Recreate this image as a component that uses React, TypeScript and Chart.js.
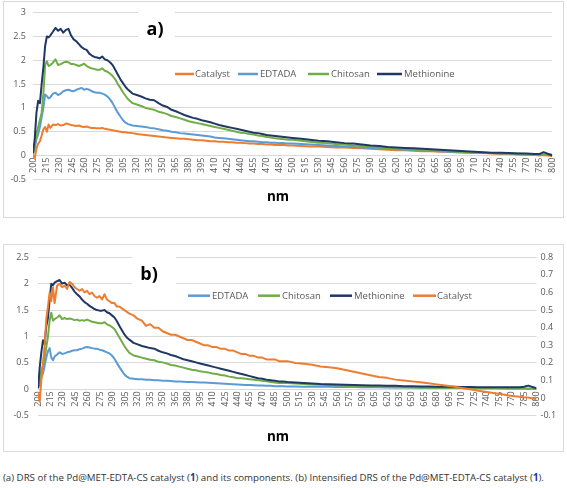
import React, { useEffect, useRef } from "react";
import { Chart, registerables } from "chart.js";

Chart.register(...registerables);

const FONT = "'Open Sans', 'Liberation Sans', sans-serif";
const TICK_COLOR = "#595959";
const GRID_COLOR = "#D9D9D9";

const ORANGE = "#ED7D31";
const LIGHT_BLUE = "#5B9BD5";
const GREEN = "#70AD47";
const NAVY = "#203864";

// wavelength (nm) sampling
const NM = [
  200, 202, 204, 206, 208, 210, 212, 214, 216, 218,
  220, 223, 226, 229, 232, 235, 238, 241, 244, 247,
  250, 253, 256, 259, 262, 265, 268, 271, 274, 277,
  280, 283, 286, 289, 292, 295, 298, 301, 304, 307,
  310, 315, 320, 325, 330, 335, 340, 345, 350, 355,
  360, 365, 370, 375, 380, 385, 390, 395, 400, 405,
  410, 415, 420, 425, 430, 435, 440, 445, 450, 455,
  460, 465, 470, 475, 480, 485, 490, 495, 500, 510,
  520, 530, 540, 550, 560, 570, 580, 590, 600, 610,
  620, 630, 640, 650, 660, 670, 680, 690, 700, 710,
  720, 730, 740, 750, 760, 770, 780, 785, 790, 800,
];

// tick labels
const X_TICKS = [
  200, 215, 230, 245, 260, 275, 290, 305, 320, 335, 350, 365, 380, 395, 410,
  425, 440, 455, 470, 485, 500, 515, 530, 545, 560, 575, 590, 605, 620, 635,
  650, 665, 680, 695, 710, 725, 740, 755, 770, 785, 800,
];
const Y_TICKS_A = [-0.5, 0, 0.5, 1, 1.5, 2, 2.5, 3];
const Y_TICKS_B = [-0.5, 0, 0.5, 1, 1.5, 2, 2.5];
const Y2_TICKS_B = [-0.1, 0, 0.1, 0.2, 0.3, 0.4, 0.5, 0.6, 0.7, 0.8];

// ---- chart (a) ----
const CATALYST_A = [
  0.02, -0.06, 0.15, 0.25, 0.3, 0.42, 0.55, 0.6, 0.5, 0.65,
  0.58, 0.65, 0.64, 0.66, 0.63, 0.64, 0.67, 0.66, 0.64, 0.63,
  0.62, 0.63, 0.61, 0.6, 0.61, 0.59, 0.58, 0.58, 0.57, 0.57,
  0.58, 0.56, 0.55, 0.54, 0.53, 0.52, 0.51, 0.5, 0.49, 0.49,
  0.48, 0.47, 0.45, 0.44, 0.43, 0.42, 0.41, 0.4, 0.39, 0.38,
  0.37, 0.36, 0.35, 0.35, 0.34, 0.33, 0.32, 0.32, 0.31, 0.3,
  0.3, 0.29, 0.29, 0.28, 0.28, 0.27, 0.27, 0.26, 0.25, 0.25,
  0.24, 0.24, 0.23, 0.23, 0.22, 0.22, 0.22, 0.21, 0.21, 0.2,
  0.19, 0.19, 0.18, 0.17, 0.17, 0.16, 0.15, 0.14, 0.13, 0.12,
  0.11, 0.11, 0.1, 0.09, 0.09, 0.08, 0.08, 0.07, 0.06, 0.06,
  0.05, 0.04, 0.03, 0.03, 0.02, 0.01, 0.01, 0.0, 0.01, -0.01,
];
const EDTADA_A = [
  0.03, 0.15, 0.35, 0.45, 0.6, 0.8, 1.0, 1.28, 1.25, 1.2,
  1.22, 1.3, 1.32, 1.27, 1.3, 1.35, 1.37, 1.38, 1.36, 1.35,
  1.38, 1.4, 1.42, 1.38, 1.4, 1.38, 1.35, 1.33, 1.32, 1.32,
  1.3, 1.28, 1.24, 1.18, 1.1, 1.0, 0.9, 0.82, 0.74, 0.69,
  0.66, 0.63, 0.62, 0.61, 0.6, 0.58, 0.57, 0.55, 0.53, 0.52,
  0.5, 0.49, 0.47, 0.46, 0.45, 0.44, 0.43, 0.42, 0.41, 0.4,
  0.38, 0.37, 0.36, 0.35, 0.34, 0.33, 0.32, 0.31, 0.3, 0.3,
  0.29, 0.28, 0.28, 0.27, 0.27, 0.26, 0.26, 0.25, 0.25, 0.24,
  0.23, 0.22, 0.21, 0.2, 0.19, 0.18, 0.17, 0.16, 0.15, 0.14,
  0.13, 0.12, 0.11, 0.1, 0.1, 0.09, 0.08, 0.07, 0.07, 0.06,
  0.05, 0.05, 0.04, 0.04, 0.03, 0.03, 0.02, 0.02, 0.02, 0.01,
];
const CHITOSAN_A = [
  0.03, 0.2, 0.45, 0.6, 0.75, 0.9, 1.3, 1.9, 1.98, 1.88,
  1.9, 1.95, 2.02, 1.9, 1.92, 1.95, 1.97, 1.96, 1.92, 1.92,
  1.9, 1.88, 1.9, 1.93, 1.88, 1.85, 1.83, 1.82, 1.8, 1.8,
  1.83, 1.78, 1.76, 1.72, 1.67, 1.6, 1.5, 1.42, 1.33, 1.25,
  1.18, 1.1, 1.07, 1.04, 1.0, 0.98, 0.96, 0.92, 0.9, 0.87,
  0.83, 0.81, 0.78, 0.75, 0.72, 0.7, 0.68, 0.66, 0.64, 0.62,
  0.6, 0.58, 0.56, 0.54, 0.52, 0.5, 0.48, 0.47, 0.45, 0.44,
  0.42, 0.41, 0.39, 0.38, 0.36, 0.35, 0.34, 0.33, 0.33, 0.31,
  0.29, 0.27, 0.26, 0.24, 0.23, 0.21, 0.2, 0.18, 0.17, 0.15,
  0.14, 0.13, 0.12, 0.11, 0.1, 0.1, 0.09, 0.08, 0.07, 0.07,
  0.06, 0.05, 0.05, 0.04, 0.04, 0.03, 0.03, 0.03, 0.02, 0.02,
];
const METHIONINE_A = [
  0.05, 0.35, 0.9, 1.15, 1.1, 1.5, 1.85, 2.3, 2.5, 2.48,
  2.52, 2.6, 2.68, 2.62, 2.66, 2.58, 2.64, 2.66, 2.52, 2.44,
  2.4, 2.34, 2.28, 2.24, 2.22, 2.14, 2.1, 2.07, 2.06, 2.04,
  2.08, 2.02, 2.0, 1.96, 1.9, 1.8, 1.7, 1.6, 1.52, 1.44,
  1.38, 1.3, 1.27, 1.24, 1.2, 1.17, 1.16, 1.1, 1.05, 1.02,
  0.96, 0.93, 0.89, 0.85, 0.82, 0.79, 0.77, 0.74, 0.72, 0.7,
  0.67, 0.64, 0.62, 0.6, 0.58, 0.56, 0.54, 0.52, 0.5, 0.48,
  0.47, 0.45, 0.43, 0.42, 0.41, 0.4, 0.39, 0.38, 0.37, 0.35,
  0.33, 0.31, 0.3, 0.28, 0.26, 0.25, 0.23, 0.21, 0.2, 0.18,
  0.17, 0.16, 0.15, 0.14, 0.13, 0.12, 0.11, 0.1, 0.09, 0.08,
  0.07, 0.06, 0.06, 0.05, 0.04, 0.04, 0.03, 0.03, 0.07, 0.0,
];

// ---- chart (b) ----
const EDTADA_B = [
  0.02, 0.1, 0.22, 0.3, 0.45, 0.6, 0.72, 0.78, 0.6, 0.55,
  0.62, 0.66, 0.7, 0.67, 0.68, 0.7, 0.71, 0.73, 0.74, 0.74,
  0.76, 0.77, 0.79, 0.8, 0.79, 0.78, 0.77, 0.77, 0.75, 0.74,
  0.72, 0.7, 0.68, 0.64, 0.58, 0.5, 0.42, 0.35, 0.28, 0.24,
  0.21, 0.2, 0.19, 0.19, 0.18, 0.18, 0.17, 0.17, 0.16, 0.16,
  0.155, 0.15, 0.15, 0.145, 0.14, 0.14, 0.135, 0.13, 0.13, 0.125,
  0.12, 0.115, 0.11, 0.105, 0.1, 0.095, 0.09, 0.085, 0.08, 0.08,
  0.075, 0.07, 0.07, 0.065, 0.065, 0.06, 0.06, 0.06, 0.055, 0.055,
  0.05, 0.05, 0.048, 0.046, 0.045, 0.044, 0.042, 0.04, 0.04, 0.038,
  0.036, 0.035, 0.034, 0.032, 0.03, 0.03, 0.028, 0.026, 0.025, 0.024,
  0.022, 0.02, 0.02, 0.018, 0.016, 0.015, 0.014, 0.013, 0.012, 0.01,
];
const CHITOSAN_B = [
  0.02, 0.15, 0.35, 0.45, 0.6, 0.8, 1.0, 1.3, 1.45, 1.3,
  1.33, 1.36, 1.4, 1.33, 1.35, 1.33, 1.34, 1.33, 1.31, 1.32,
  1.3, 1.31, 1.3, 1.32, 1.3, 1.28, 1.27, 1.26, 1.25, 1.25,
  1.27, 1.23, 1.21, 1.18, 1.14, 1.06, 0.98, 0.9, 0.82, 0.75,
  0.69, 0.64, 0.62, 0.6, 0.58, 0.56, 0.55, 0.52, 0.51, 0.49,
  0.46, 0.45, 0.43, 0.41, 0.39, 0.37, 0.36, 0.34, 0.33, 0.32,
  0.3, 0.29, 0.27, 0.26, 0.24, 0.23, 0.21, 0.21, 0.2, 0.19,
  0.18, 0.17, 0.16, 0.15, 0.14, 0.13, 0.12, 0.12, 0.12, 0.11,
  0.1, 0.09, 0.085, 0.08, 0.07, 0.065, 0.06, 0.055, 0.05, 0.045,
  0.045, 0.04, 0.04, 0.035, 0.035, 0.03, 0.03, 0.03, 0.025, 0.025,
  0.02, 0.02, 0.02, 0.02, 0.02, 0.015, 0.015, 0.015, 0.01, 0.01,
];
const METHIONINE_B = [
  0.02, 0.4, 0.7, 0.93, 0.85, 1.2, 1.35, 1.7, 2.0, 1.97,
  2.02, 2.05, 2.07, 2.0, 2.02, 1.97, 1.98, 1.92, 1.85, 1.8,
  1.76, 1.7, 1.65, 1.62, 1.58, 1.55, 1.52, 1.5, 1.49, 1.49,
  1.5, 1.46, 1.44, 1.4, 1.36, 1.29, 1.2, 1.12, 1.04, 0.98,
  0.94, 0.88, 0.85, 0.82, 0.8, 0.78, 0.77, 0.73, 0.7, 0.68,
  0.65, 0.63, 0.6, 0.57, 0.55, 0.53, 0.51, 0.49, 0.47, 0.45,
  0.43, 0.41, 0.39, 0.37, 0.35, 0.33, 0.31, 0.29, 0.27, 0.25,
  0.23, 0.21, 0.2, 0.18, 0.17, 0.16, 0.15, 0.15, 0.14, 0.13,
  0.12, 0.11, 0.1, 0.095, 0.09, 0.085, 0.08, 0.075, 0.07, 0.07,
  0.065, 0.065, 0.06, 0.06, 0.055, 0.055, 0.05, 0.05, 0.05, 0.045,
  0.045, 0.04, 0.04, 0.04, 0.04, 0.04, 0.04, 0.05, 0.07, 0.02,
];
// catalyst in (b) is on the secondary (right) axis
const CATALYST_B = [
  0.03, -0.02, 0.1, 0.2, 0.3, 0.45, 0.52, 0.6, 0.55, 0.63,
  0.54, 0.64, 0.65, 0.63, 0.64, 0.62, 0.66, 0.65, 0.63, 0.62,
  0.61, 0.62, 0.6, 0.61, 0.59, 0.6, 0.58, 0.57, 0.58, 0.56,
  0.59, 0.56, 0.55, 0.54, 0.54, 0.52, 0.52, 0.51, 0.5, 0.49,
  0.48, 0.47, 0.45, 0.44, 0.41, 0.42, 0.4, 0.4, 0.38, 0.37,
  0.36, 0.36, 0.35, 0.34, 0.33, 0.33, 0.32, 0.31, 0.3, 0.3,
  0.29, 0.29, 0.28, 0.28, 0.27, 0.27, 0.26, 0.25, 0.25, 0.24,
  0.24, 0.23, 0.23, 0.22, 0.22, 0.22, 0.21, 0.21, 0.21, 0.2,
  0.195, 0.19, 0.18, 0.175, 0.17, 0.16, 0.15, 0.14, 0.13, 0.12,
  0.115, 0.105, 0.1, 0.095, 0.09, 0.085, 0.078, 0.072, 0.066, 0.058,
  0.05, 0.042, 0.035, 0.028, 0.02, 0.012, 0.008, 0.005, 0.003, -0.006,
];

const fmt = (v: number) => String(Math.round(v * 10) / 10);
const toPoints = (ys: number[]) => NM.map((x, i) => ({ x, y: ys[i] }));

type LegendItem = { name: string; color: string; x0: number; x1: number; tx: number };

function overlayPlugin(o: {
  frame: [number, number, number, number];
  label: string;
  labelX: number;
  labelY: number;
  box: [number, number, number, number];
  legendY: number;
  legend: LegendItem[];
  nmX: number;
  nmY: number;
}) {
  return {
    id: "overlay",
    beforeDraw(chart: any) {
      const ctx = chart.ctx;
      ctx.save();
      ctx.fillStyle = "#ffffff";
      ctx.fillRect(0, 0, chart.width, chart.height);
      ctx.strokeStyle = GRID_COLOR;
      ctx.lineWidth = 1;
      ctx.strokeRect(o.frame[0], o.frame[1], o.frame[2], o.frame[3]);
      ctx.restore();
    },
    beforeDatasetsDraw(chart: any) {
      const ctx = chart.ctx;
      ctx.save();
      ctx.fillStyle = "#ffffff";
      ctx.fillRect(o.box[0], o.box[1], o.box[2], o.box[3]);
      ctx.restore();
    },
    afterDatasetsDraw(chart: any) {
      const ctx = chart.ctx;
      ctx.save();
      ctx.fillStyle = "#000000";
      ctx.textAlign = "center";
      ctx.textBaseline = "middle";
      ctx.font = `bold 18px ${FONT}`;
      ctx.fillText(o.label, o.labelX, o.labelY);
      ctx.font = `bold 13.5px ${FONT}`;
      ctx.fillText("nm", o.nmX, o.nmY);
      ctx.font = `9.5px ${FONT}`;
      ctx.textAlign = "left";
      for (const it of o.legend) {
        ctx.strokeStyle = it.color;
        ctx.lineWidth = 2.5;
        ctx.beginPath();
        ctx.moveTo(it.x0, o.legendY);
        ctx.lineTo(it.x1, o.legendY);
        ctx.stroke();
        ctx.fillStyle = TICK_COLOR;
        ctx.fillText(it.name, it.tx, o.legendY + 0.5);
      }
      ctx.restore();
    },
  };
}

const tickFont = { family: FONT, size: 9 };

function xScale() {
  return {
    type: "linear",
    min: 200,
    max: 800,
    position: { y: 0 },
    grid: { display: false, drawTicks: false },
    border: { display: true, color: GRID_COLOR, width: 1 },
    afterBuildTicks: (s: any) => {
      s.ticks = X_TICKS.map((v) => ({ value: v }));
    },
    ticks: {
      autoSkip: false,
      minRotation: 90,
      maxRotation: 90,
      padding: 2,
      color: TICK_COLOR,
      font: tickFont,
      callback: (v: any) => String(v),
    },
  };
}

function yScale(ticks: number[], width: number, padding: number, position = "left", grid = true) {
  return {
    type: "linear",
    position,
    min: ticks[0],
    max: ticks[ticks.length - 1],
    afterBuildTicks: (s: any) => {
      s.ticks = ticks.map((v) => ({ value: v }));
    },
    afterFit: (s: any) => {
      s.width = width;
    },
    grid: { display: grid, color: GRID_COLOR, lineWidth: 1, drawTicks: false },
    border: { display: false },
    ticks: { padding, color: TICK_COLOR, font: tickFont, callback: (v: any) => fmt(v) },
  };
}

function ds(label: string, ys: number[], color: string, order: number, yAxisID = "y") {
  return {
    label,
    data: toPoints(ys),
    borderColor: color,
    backgroundColor: color,
    borderWidth: 2,
    pointRadius: 0,
    fill: false,
    tension: 0,
    borderJoinStyle: "round",
    order,
    yAxisID,
  };
}

function configA(): any {
  return {
    type: "line",
    data: {
      datasets: [
        ds("Catalyst", CATALYST_A, ORANGE, 4),
        ds("EDTADA", EDTADA_A, LIGHT_BLUE, 3),
        ds("Chitosan", CHITOSAN_A, GREEN, 2),
        ds("Methionine", METHIONINE_A, NAVY, 1),
      ],
    },
    options: {
      animation: false,
      responsive: false,
      devicePixelRatio: 1,
      layout: { padding: { top: 12.7, bottom: 39.7, left: 0, right: 12 } },
      plugins: { legend: { display: false }, tooltip: { enabled: false } },
      scales: { x: xScale(), y: yScale(Y_TICKS_A, 31, 7) },
    },
    plugins: [
      overlayPlugin({
        frame: [1.5, 1.5, 560, 216],
        label: "a)",
        labelX: 153,
        labelY: 30,
        box: [136, 6, 37, 36],
        legendY: 74,
        legend: [
          { name: "Catalyst", color: ORANGE, x0: 173, x1: 192, tx: 193 },
          { name: "EDTADA", color: LIGHT_BLUE, x0: 236, x1: 256, tx: 258 },
          { name: "Chitosan", color: GREEN, x0: 306, x1: 327, tx: 329 },
          { name: "Methionine", color: NAVY, x0: 375, x1: 400, tx: 402 },
        ],
        nmX: 276,
        nmY: 197,
      }),
    ],
  };
}

function configB(): any {
  return {
    type: "line",
    data: {
      datasets: [
        ds("EDTADA", EDTADA_B, LIGHT_BLUE, 4),
        ds("Chitosan", CHITOSAN_B, GREEN, 3),
        ds("Methionine", METHIONINE_B, NAVY, 2),
        ds("Catalyst", CATALYST_B, ORANGE, 1, "y2"),
      ],
    },
    options: {
      animation: false,
      responsive: false,
      devicePixelRatio: 1,
      layout: { padding: { top: 15.3, bottom: 38.3, left: 0, right: 0 } },
      plugins: { legend: { display: false }, tooltip: { enabled: false } },
      scales: {
        x: xScale(),
        y: yScale(Y_TICKS_B, 36, 9),
        y2: yScale(Y2_TICKS_B, 28.5, 4, "right", false),
      },
    },
    plugins: [
      overlayPlugin({
        frame: [1.5, 2.5, 560, 207],
        label: "b)",
        labelX: 147,
        labelY: 33,
        box: [130, 9, 44, 38],
        legendY: 53.7,
        legend: [
          { name: "EDTADA", color: LIGHT_BLUE, x0: 186, x1: 208, tx: 210 },
          { name: "Chitosan", color: GREEN, x0: 256, x1: 278, tx: 280 },
          { name: "Methionine", color: NAVY, x0: 328, x1: 350, tx: 352 },
          { name: "Catalyst", color: ORANGE, x0: 411, x1: 434, tx: 435 },
        ],
        nmX: 276,
        nmY: 195,
      }),
    ],
  };
}

function ChartCanvas(props: { make: () => any; left: number; top: number; width: number; height: number }) {
  const ref = useRef<HTMLCanvasElement | null>(null);
  useEffect(() => {
    const chart = new Chart(ref.current as HTMLCanvasElement, props.make());
    return () => chart.destroy();
  }, []);
  return (
    <canvas
      ref={ref}
      width={props.width}
      height={props.height}
      style={{
        position: "absolute",
        left: props.left,
        top: props.top,
        width: props.width,
        height: props.height,
        display: "block",
      }}
    />
  );
}

export default function App() {
  const bold1 = { color: "#1B3A8C", fontWeight: 700 } as const;
  return (
    <div
      style={{
        position: "absolute",
        left: 0,
        top: 0,
        width: 567,
        height: 488,
        background: "#ffffff",
        overflow: "hidden",
      }}
    >
      <ChartCanvas make={configA} left={2} top={0} width={563} height={219} />
      <ChartCanvas make={configB} left={2} top={242} width={563} height={212} />
      <div
        style={{
          position: "absolute",
          left: 3,
          top: 471,
          fontFamily: FONT,
          fontSize: 9.7,
          lineHeight: "13px",
          color: "#333333",
          whiteSpace: "nowrap",
        }}
      >
        (a) DRS of the Pd@MET-EDTA-CS catalyst (<span style={bold1}>1</span>) and its components. (b) Intensified DRS of
        the Pd@MET-EDTA-CS catalyst (<span style={bold1}>1</span>).
      </div>
    </div>
  );
}
